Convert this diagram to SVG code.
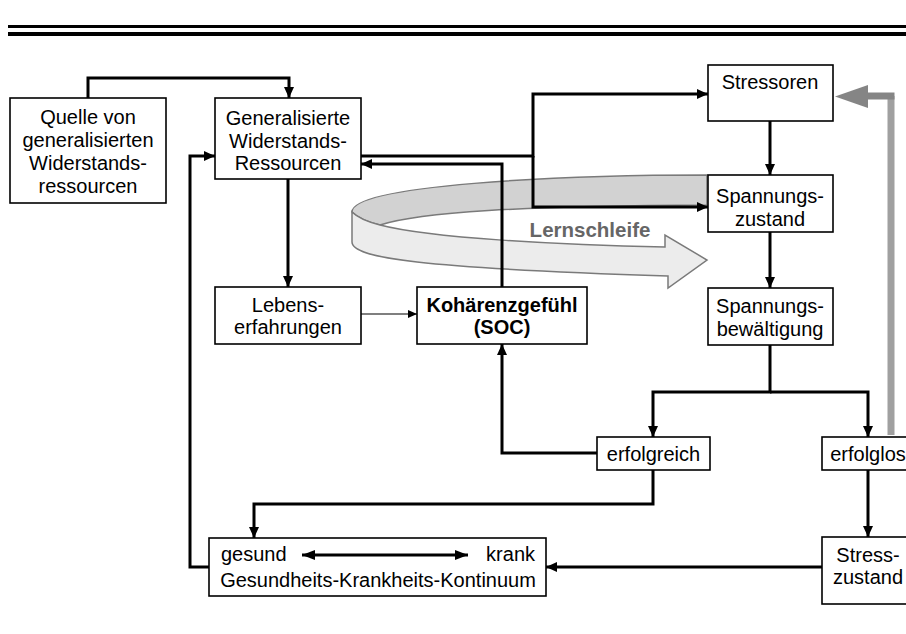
<svg xmlns="http://www.w3.org/2000/svg" width="906" height="634" viewBox="0 0 906 634">
<defs>
<style>
.box{fill:#fff;stroke:#000;stroke-width:1.6}
.t{font-family:"Liberation Sans",Arial,sans-serif;font-size:20px;fill:#000;text-anchor:middle}
.b{font-weight:bold}
.c{fill:none;stroke:#000;stroke-width:3}
.thin{fill:none;stroke:#000;stroke-width:1.2}
</style>
<marker id="ah" markerWidth="11" markerHeight="10" refX="11" refY="5" orient="auto-start-reverse" markerUnits="userSpaceOnUse"><path d="M0,0 L11,5 L0,10 Z" fill="#000"/></marker>
<marker id="ahs" markerWidth="9" markerHeight="8" refX="9" refY="4" orient="auto" markerUnits="userSpaceOnUse"><path d="M0,0 L9,4 L0,8 Z" fill="#000"/></marker>
<marker id="ahd" markerWidth="13" markerHeight="10" refX="13" refY="5" orient="auto-start-reverse" markerUnits="userSpaceOnUse"><path d="M0,0 L13,5 L0,10 Z" fill="#000"/></marker>
</defs>
<rect x="8" y="25" width="898" height="3" fill="#000"/>
<rect x="8" y="32" width="898" height="4" fill="#000"/>

<g id="lernschleife">
<path d="M707,175 C560,175 352,185 352,212 C358,218 368,222 380,225 C420,212 520,206 707,205 Z" fill="#d2d2d2" stroke="#7a7a7a" stroke-width="1.5"/>
<path d="M352,212 L352,242 C352,258 420,268 668,276 L668,288 L707,260 L665,235 L665,247 C560,245 430,238 380,225 C368,222 358,218 352,212 Z" fill="#ececec" stroke="#7a7a7a" stroke-width="1.5"/>
</g>

<g id="connectors">
<path class="c" d="M88,98 V78 H289 V98" marker-end="url(#ah)"/>
<path class="c" d="M288,179 V287" marker-end="url(#ah)"/>
<path class="thin" d="M361,314 H417" marker-end="url(#ahs)"/>
<path class="c" d="M502,287 V164 H361" marker-end="url(#ah)"/>
<path class="c" d="M361,156 H533 V94 H708" marker-end="url(#ah)"/>
<path class="c" d="M533,156 V207 H708" marker-end="url(#ah)"/>
<path class="c" d="M770,121 V175" marker-end="url(#ah)"/>
<path class="c" d="M770,232 V288" marker-end="url(#ah)"/>
<path class="c" d="M770,345 V392 H653 V437" marker-end="url(#ah)"/>
<path class="c" d="M770,392 H868 V437" marker-end="url(#ah)"/>
<path class="c" d="M597,453 H502 V344" marker-end="url(#ah)"/>
<path class="c" d="M653,470 V504 H254 V538" marker-end="url(#ah)"/>
<path class="c" d="M868,470 V537" marker-end="url(#ah)"/>
<path class="c" d="M822,567 H546" marker-end="url(#ah)"/>
<path class="c" d="M209,567 H190 V156 H215" marker-end="url(#ah)"/>
<path d="M891,435 V96" fill="none" stroke="#a0a0a0" stroke-width="7"/>
<path d="M894.5,96 H866" fill="none" stroke="#858585" stroke-width="7"/>
<polygon points="835,96.5 868,85 868,108" fill="#858585"/>
</g>

<text class="t b" x="590" y="237" style="font-size:20.5px;fill:#666">Lernschleife</text>

<g id="quelle">
<rect class="box" x="10" y="98" width="156" height="105"/>
<text class="t" x="88" y="124">Quelle von</text>
<text class="t" x="88" y="147">generalisierten</text>
<text class="t" x="88" y="170">Widerstands-</text>
<text class="t" x="88" y="193">ressourcen</text>
</g>
<g id="generalisierte">
<rect class="box" x="215" y="98" width="146" height="81"/>
<text class="t" x="288" y="125">Generalisierte</text>
<text class="t" x="288" y="147.5">Widerstands-</text>
<text class="t" x="288" y="170">Ressourcen</text>
</g>
<g id="lebens">
<rect class="box" x="215" y="287" width="146" height="57"/>
<text class="t" x="288" y="312">Lebens-</text>
<text class="t" x="288" y="334">erfahrungen</text>
</g>
<g id="soc">
<rect class="box" x="417" y="287" width="170" height="57"/>
<text class="t b" x="502" y="312">Kohärenzgefühl</text>
<text class="t b" x="502" y="334">(SOC)</text>
</g>
<g id="stressoren">
<rect class="box" x="708" y="65" width="125" height="56"/>
<text class="t" x="770" y="89">Stressoren</text>
</g>
<g id="spannungszustand">
<rect class="box" x="708" y="175" width="125" height="57"/>
<text class="t" x="770" y="203">Spannungs-</text>
<text class="t" x="770" y="226">zustand</text>
</g>
<g id="spannungsbewaeltigung">
<rect class="box" x="708" y="288" width="125" height="57"/>
<text class="t" x="770" y="313">Spannungs-</text>
<text class="t" x="770" y="336">bewältigung</text>
</g>
<g id="erfolgreich">
<rect class="box" x="597" y="437" width="113" height="33"/>
<text class="t" x="653.5" y="461">erfolgreich</text>
</g>
<g id="erfolglos">
<rect class="box" x="822" y="437" width="92" height="33"/>
<text class="t" x="868" y="461">erfolglos</text>
</g>
<g id="stresszustand">
<rect class="box" x="822" y="537" width="92" height="67"/>
<text class="t" x="868" y="562">Stress-</text>
<text class="t" x="868" y="584">zustand</text>
</g>
<g id="kontinuum">
<rect class="box" x="209" y="538" width="337" height="58"/>
<text class="t" x="221" y="561" style="text-anchor:start">gesund</text>
<text class="t" x="535" y="561" style="text-anchor:end">krank</text>
<path class="c" d="M302,555 H468" marker-start="url(#ahd)" marker-end="url(#ahd)"/>
<text class="t" x="378" y="587">Gesundheits-Krankheits-Kontinuum</text>
</g>
</svg>
